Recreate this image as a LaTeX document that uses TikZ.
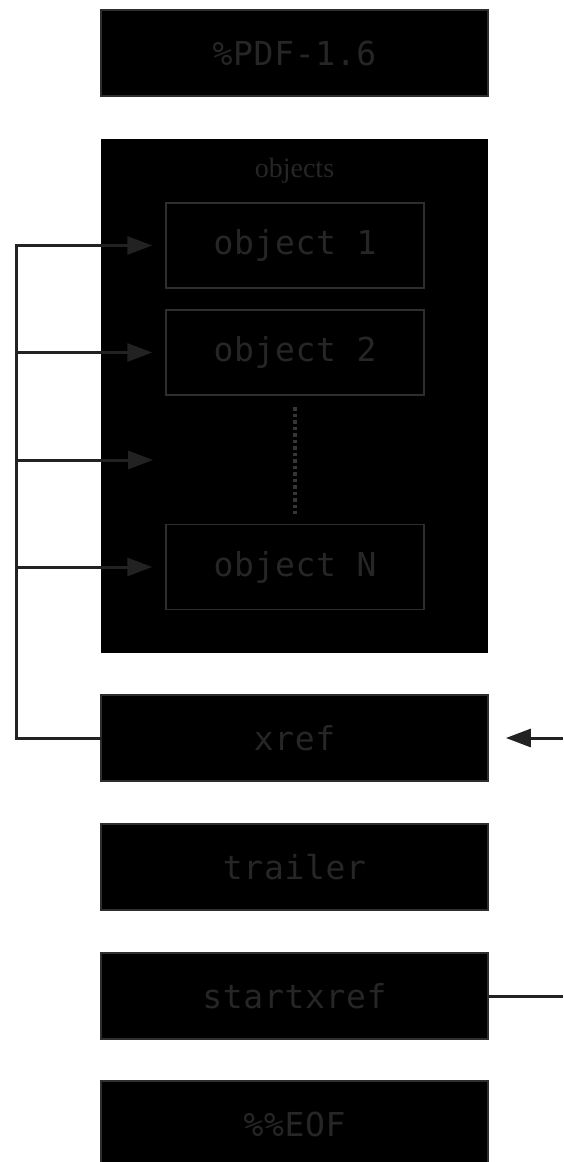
\documentclass[tikz,border=0pt]{standalone}
\usepackage{fontspec}
\usetikzlibrary{arrows.meta}
\newfontfamily\monof[LetterSpace=2]{DejaVu Sans Mono}
\newfontfamily\seriff{Liberation Serif}
\definecolor{txtgray}{HTML}{262626}
\definecolor{edgegray}{HTML}{2E2E2E}
\definecolor{linegray}{HTML}{222222}
\definecolor{dotgray}{HTML}{363636}
\tikzset{
  x=1pt, y=-1pt,
  bigbox/.style={draw=edgegray, line width=1.8pt, fill=black, minimum width=387pt, minimum height=86pt, inner sep=0pt, text=txtgray, font=\monof\fontsize{33}{36}\selectfont},
  objbox/.style={draw=edgegray, line width=1.5pt, fill=black, minimum width=258pt, minimum height=85pt, inner sep=0pt, text=txtgray, font=\monof\fontsize{33}{36}\selectfont},
  conn/.style={draw=linegray, line width=3pt},
  arr/.style={conn, -{Triangle[length=25pt,width=18pt]}},
}
\begin{document}
\begin{tikzpicture}
\clip (0,0) rectangle (563,1162);
\fill[white] (0,0) rectangle (563,1162);
\node[bigbox] (pdf) at (294.5,53) {\%PDF-1.6};
\node[fill=black, minimum width=387pt, minimum height=514pt, inner sep=0pt] (objs) at (294.5,396) {};
\node[text=txtgray, font=\seriff\fontsize{28}{30}\selectfont] (objlabel) at (294.5,171) {objects};
\node[objbox] (o1) at (295,245.5) {object 1};
\node[objbox] (o2) at (295,352.5) {object 2};
\node[objbox] (oN) at (295,567) {object N};
\draw[dotgray, line width=3.5pt, dash pattern=on 3.5pt off 3pt] (295,407) -- (295,514);
\node[bigbox] (xref) at (294.5,738) {xref};
\node[bigbox] (trailer) at (294.5,867) {trailer};
\node[bigbox] (startxref) at (294.5,996) {startxref};
\node[bigbox] (eof) at (294.5,1124) {\%\%EOF};
% left spine
\coordinate (s1) at (16,245.5);
\coordinate (s2) at (16,352.5);
\coordinate (s3) at (16,460);
\coordinate (s4) at (16,567);
\coordinate (s5) at (16,738);
\coordinate (gap) at (166,460);
\draw[conn, line cap=rect] (xref.west) -- (s5) -- (s1);
\draw[arr, shorten >=13pt] (s1) -- (o1.west);
\draw[arr, shorten >=13pt] (s2) -- (o2.west);
\draw[arr, shorten >=13pt] (s3) -- (gap);
\draw[arr, shorten >=13pt] (s4) -- (oN.west);
% right side
\coordinate (r1) at (563,738);
\coordinate (r2) at (563,996);
\draw[arr, shorten >=17pt] (r1) -- (xref.east);
\draw[conn] (startxref.east) -- (r2);
\end{tikzpicture}
\end{document}
